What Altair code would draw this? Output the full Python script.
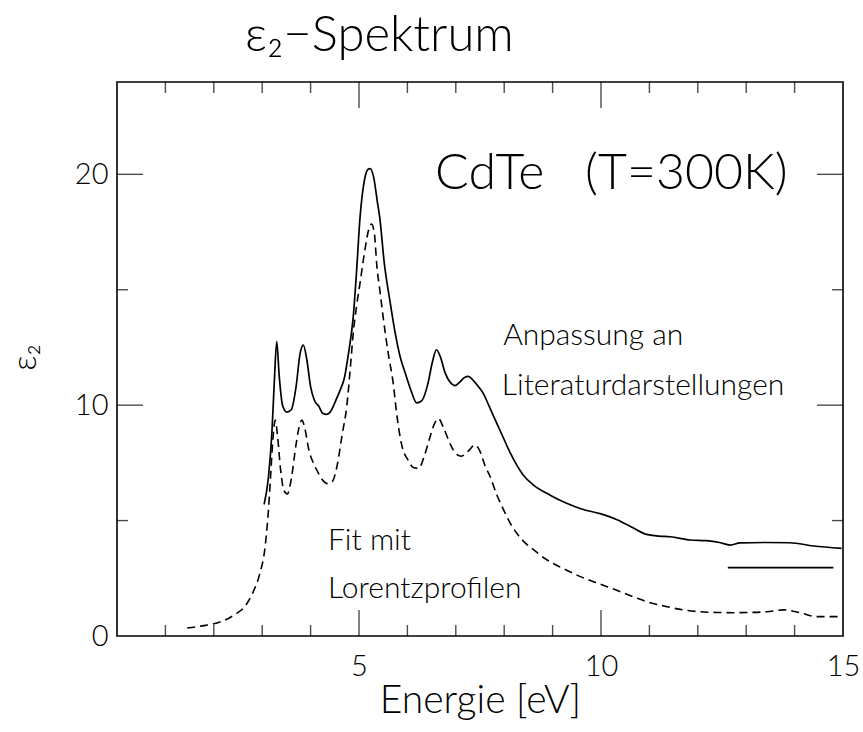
import altair as alt
import pandas as pd

# epsilon_2 spectrum of CdTe at 300 K: curve adapted to literature data (solid)
energy_lit = [3.04, 3.13, 3.20, 3.25, 3.30, 3.35, 3.42, 3.51, 3.60, 3.70, 3.78, 3.85,
              3.92, 4.00, 4.08, 4.17, 4.25, 4.33, 4.42, 4.52, 4.61, 4.70, 4.78, 4.88,
              4.95, 5.02, 5.10, 5.18, 5.23, 5.30, 5.38, 5.43, 5.52, 5.64, 5.75, 5.85,
              5.97, 6.08, 6.19, 6.30, 6.42, 6.52, 6.60, 6.68, 6.78, 6.88, 6.98, 7.08,
              7.18, 7.26, 7.35, 7.47, 7.57, 7.70, 7.85, 7.98, 8.12, 8.26, 8.40, 8.60,
              8.95, 9.29, 9.60, 9.98, 10.32, 10.65, 10.94, 11.20, 11.43, 11.84, 12.18,
              12.45, 12.67, 12.87, 13.40, 13.90, 14.39, 14.97]
eps_lit = [5.7, 6.9, 8.8, 11.0, 12.75, 11.3, 10.0, 9.7, 9.8, 10.8, 12.2, 12.6,
           12.0, 10.8, 10.2, 9.95, 9.65, 9.6, 9.75, 10.2, 10.65, 11.2, 12.2, 13.8,
           15.8, 18.1, 19.6, 20.2, 20.25, 19.9, 18.8, 18.1, 16.2, 14.5, 13.1, 12.1,
           11.3, 10.6, 10.1, 10.2, 10.9, 11.9, 12.4, 12.1, 11.4, 11.0, 10.85, 11.0,
           11.2, 11.25, 11.1, 10.8, 10.5, 9.9, 9.2, 8.6, 7.95, 7.4, 6.95, 6.55,
           6.1, 5.75, 5.5, 5.3, 5.05, 4.7, 4.4, 4.33, 4.3, 4.16, 4.13,
           4.05, 3.94, 4.03, 4.05, 4.04, 3.9, 3.8]

# fit with Lorentz profiles (dashed)
energy_fit = [1.45, 1.80, 2.15, 2.45, 2.65, 2.80, 2.95, 3.05, 3.12, 3.17, 3.22, 3.27,
              3.32, 3.38, 3.45, 3.52, 3.60, 3.70, 3.78, 3.82, 3.88, 3.96, 4.06, 4.15,
              4.25, 4.35, 4.45, 4.55, 4.65, 4.75, 4.82, 4.88, 4.95, 5.02, 5.12, 5.20,
              5.26, 5.32, 5.37, 5.43, 5.50, 5.60, 5.71, 5.78, 5.88, 6.02, 6.12, 6.23,
              6.35, 6.45, 6.56, 6.64, 6.75, 6.88, 7.00, 7.12, 7.25, 7.40, 7.50, 7.60,
              7.71, 7.85, 7.98, 8.12, 8.26, 8.45, 8.60, 8.81, 9.05, 9.29, 9.60, 9.98,
              10.30, 10.67, 11.00, 11.36, 11.70, 12.05, 12.40, 12.73, 13.10, 13.42,
              13.77, 14.11, 14.46, 14.97]
eps_fit = [0.35, 0.45, 0.62, 0.95, 1.3, 1.85, 2.7, 3.7, 5.2, 6.8, 8.5, 9.35,
           8.6, 7.2, 6.3, 6.15, 6.8, 8.3, 9.2, 9.35, 9.0, 8.1, 7.48, 7.1,
           6.75, 6.6, 6.7, 7.4, 8.7, 10.0, 11.6, 13.1, 14.3, 15.27, 16.7, 17.6,
           17.85, 17.4, 16.0, 15.0, 13.8, 12.3, 10.9, 9.6, 8.3, 7.6, 7.3, 7.26,
           7.8, 8.5, 9.2, 9.42, 9.0, 8.34, 7.9, 7.79, 8.0, 8.27, 8.0, 7.4,
           6.9, 6.1, 5.5, 4.9, 4.45, 4.0, 3.75, 3.4, 3.1, 2.85, 2.55, 2.25,
           2.0, 1.70, 1.45, 1.27, 1.13, 1.05, 1.02, 1.01, 1.02, 1.05,
           1.13, 1.01, 0.84, 0.84]

# short horizontal reference bar near the right edge
bar_start, bar_end, bar_level = 12.62, 14.80, 2.96

# tick positions (ticks point into the frame on all four sides)
x_minor_ticks = [1, 2, 3, 4, 6, 7, 8, 9, 11, 12, 13, 14]
x_major_ticks = [5, 10]
y_minor_ticks = [5, 15]
y_major_ticks = [10, 20]
x_tick_labels = [5, 10, 15]
y_tick_labels = [0, 10, 20]

x_min, x_max = 0, 15
y_min, y_max = 0, 24

# annotations: text, x (eV), y (epsilon_2)
big_label = ["CdTe\u00a0\u00a0\u00a0(T=300K)"]
big_label_x = [6.57]
big_label_y = [19.35]
small_labels = ["Anpassung an", "Literaturdarstellungen", "Fit mit", "Lorentzprofilen"]
small_labels_x = [7.98, 7.95, 4.36, 4.36]
small_labels_y = [12.6, 10.43, 3.72, 1.65]

FONT = "Lato"
W, H = 726, 554

x_scale = alt.Scale(domain=[x_min, x_max], nice=False, zero=False)
y_scale = alt.Scale(domain=[y_min, y_max], nice=False, zero=False)

x_axis = alt.Axis(values=x_tick_labels, ticks=False, tickSize=0, domain=False, grid=False,
                  labelPadding=16, labelFontSize=29, labelFlush=False, labelFont=FONT,
                  labelFontWeight=300, labelColor="black",
                  title="Energie [eV]", titleFontSize=39, titleFont=FONT,
                  titleFontWeight=300, titleColor="black",
                  titleY=76, titleBaseline="alphabetic")
y_axis = alt.Axis(values=y_tick_labels, ticks=False, tickSize=0, domain=False, grid=False,
                  labelPadding=9, labelFontSize=29, labelFlush=False, labelFont=FONT,
                  labelFontWeight=300, labelColor="black",
                  title="ε₂", titleFontSize=34, titleFont=FONT, titleFontWeight=300,
                  titleColor="black", titleAngle=270, titleX=-92, titleY=H / 2 - 2,
                  titleAlign="center", titleBaseline="middle")

lit_df = pd.DataFrame({"E": energy_lit, "eps": eps_lit})
fit_df = pd.DataFrame({"E": energy_fit, "eps": eps_fit})

solid = alt.Chart(lit_df).mark_line(
    color="black", strokeWidth=1.7, interpolate="monotone"
).encode(
    x=alt.X("E:Q", scale=x_scale, axis=x_axis),
    y=alt.Y("eps:Q", scale=y_scale, axis=y_axis),
)

dashed = alt.Chart(fit_df).mark_line(
    color="black", strokeWidth=1.6, strokeDash=[8, 5], interpolate="monotone"
).encode(
    x=alt.X("E:Q", scale=x_scale),
    y=alt.Y("eps:Q", scale=y_scale),
)

bar = alt.Chart(pd.DataFrame({"E": [bar_start], "E2": [bar_end], "eps": [bar_level]})).mark_rule(
    color="black", strokeWidth=1.7
).encode(
    x=alt.X("E:Q", scale=x_scale),
    x2="E2:Q",
    y=alt.Y("eps:Q", scale=y_scale),
)


def tick_layer(positions, at, along, length):
    """Inward ticks: along='x' puts ticks on a horizontal edge at y=at,
    along='y' puts ticks on a vertical edge at x=at."""
    if along == "x":
        df = pd.DataFrame({"E": positions, "eps": [at] * len(positions)})
        off = length / 2 if at == y_max else -length / 2
        mark = alt.Chart(df).mark_tick(color="black", orient="vertical", size=length,
                                       thickness=1.4, yOffset=off)
    else:
        df = pd.DataFrame({"E": [at] * len(positions), "eps": positions})
        off = length / 2 if at == x_min else -length / 2
        mark = alt.Chart(df).mark_tick(color="black", orient="horizontal", size=length,
                                       thickness=1.4, xOffset=off)
    return mark.encode(x=alt.X("E:Q", scale=x_scale), y=alt.Y("eps:Q", scale=y_scale))


MAJOR, MINOR = 26, 11
ticks = [
    tick_layer(x_major_ticks, y_min, "x", MAJOR),
    tick_layer(x_minor_ticks, y_min, "x", MINOR),
    tick_layer(x_major_ticks, y_max, "x", MAJOR),
    tick_layer(x_minor_ticks, y_max, "x", MINOR),
    tick_layer(y_major_ticks, x_min, "y", MAJOR),
    tick_layer(y_minor_ticks, x_min, "y", MINOR),
    tick_layer(y_major_ticks, x_max, "y", MAJOR),
    tick_layer(y_minor_ticks, x_max, "y", MINOR),
]

big_text = alt.Chart(pd.DataFrame({"E": big_label_x, "eps": big_label_y, "t": big_label})).mark_text(
    align="left", baseline="alphabetic", font=FONT, fontSize=50, fontWeight=300, color="black"
).encode(x=alt.X("E:Q", scale=x_scale), y=alt.Y("eps:Q", scale=y_scale), text="t:N")

small_text = alt.Chart(pd.DataFrame({"E": small_labels_x, "eps": small_labels_y, "t": small_labels})).mark_text(
    align="left", baseline="alphabetic", font=FONT, fontSize=30, fontWeight=300, color="black"
).encode(x=alt.X("E:Q", scale=x_scale), y=alt.Y("eps:Q", scale=y_scale), text="t:N")

chart = alt.layer(solid, dashed, bar, *ticks, big_text, small_text).properties(
    width=W,
    height=H,
    title=alt.TitleParams(text="ε₂−Spektrum", font=FONT, fontSize=49, fontWeight=300,
                          color="black", anchor="start", frame="group", dx=128,
                          offset=27, dy=45, baseline="alphabetic"),
    padding={"left": 117, "top": 82, "right": 20, "bottom": 96},
    autosize=alt.AutoSizeParams(type="none"),
    background="white",
).configure_view(stroke="black", strokeWidth=1.6)

chart.save("out.html", embed_options={"renderer": "svg", "actions": False})
